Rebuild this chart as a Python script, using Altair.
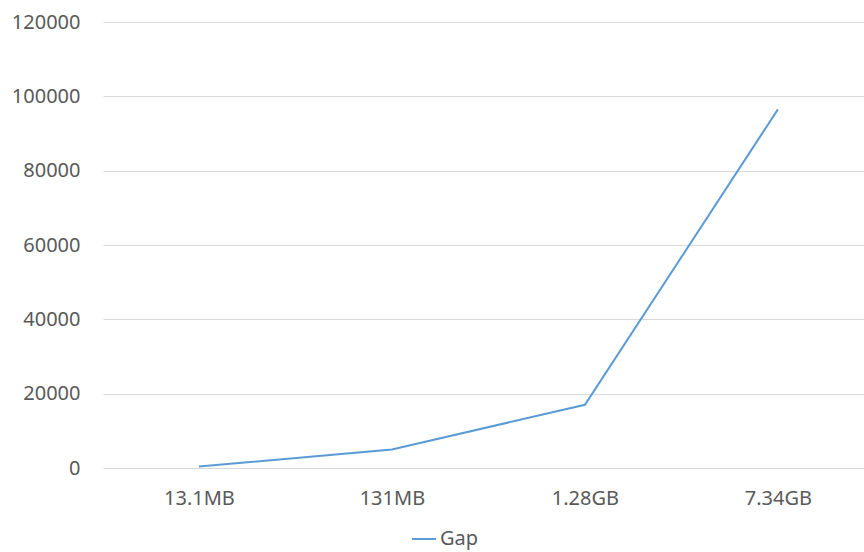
import altair as alt
import pandas as pd

categories = ["13.1MB", "131MB", "1.28GB", "7.34GB"]
gap_values = [400, 5000, 17000, 96500]
series_name = "Gap"

df = pd.DataFrame({"size": categories, "value": gap_values, "series": [series_name] * len(categories)})

FONT = "Noto Sans"
LABEL_COLOR = "#595959"

chart = alt.Chart(df).mark_line(strokeWidth=2).encode(
    x=alt.X("size:N", sort=categories, title=None,
            scale=alt.Scale(type="point", padding=0.4715, align=0.527),
            axis=alt.Axis(labelAngle=0, domain=False, ticks=False, grid=False,
                          labelPadding=20, labelFontSize=20, labelColor=LABEL_COLOR,
                          labelFont=FONT)),
    y=alt.Y("value:Q", title=None,
            scale=alt.Scale(domain=[0, 120000], nice=False),
            axis=alt.Axis(values=[0, 20000, 40000, 60000, 80000, 100000, 120000],
                          format="d",
                          domain=False, ticks=False, labelPadding=23,
                          labelFontSize=20, labelColor=LABEL_COLOR, labelFont=FONT,
                          gridColor="#D9D9D9", gridWidth=1)),
    color=alt.Color("series:N", title=None,
                    scale=alt.Scale(range=["#5B9BD5"]),
                    legend=alt.Legend(orient="none", legendX=308, legendY=504,
                                      symbolType="stroke", symbolStrokeWidth=2,
                                      symbolSize=576, labelFontSize=20,
                                      labelColor=LABEL_COLOR, labelFont=FONT,
                                      labelOffset=3)),
).properties(
    width=761, height=446,
    background="white",
    autosize=alt.AutoSizeParams(type="none"),
    padding={"left": 103, "top": 22, "right": 0, "bottom": 84},
).configure_view(stroke=None)

chart.save("out.html", embed_options={"renderer": "svg", "actions": False})
